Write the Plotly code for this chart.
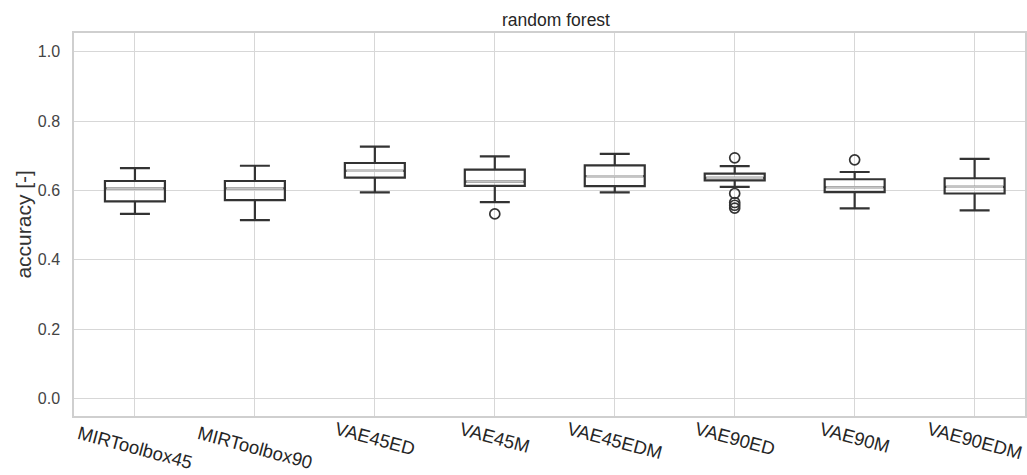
import plotly.graph_objects as go

categories = ["MIRToolbox45", "MIRToolbox90", "VAE45ED", "VAE45M",
              "VAE45EDM", "VAE90ED", "VAE90M", "VAE90EDM"]
q1 = [0.568, 0.572, 0.637, 0.613, 0.612, 0.629, 0.595, 0.591]
median = [0.606, 0.606, 0.656, 0.625, 0.641, 0.636, 0.609, 0.610]
q3 = [0.627, 0.627, 0.679, 0.660, 0.672, 0.648, 0.632, 0.635]
lower_whisker = [0.532, 0.514, 0.594, 0.566, 0.594, 0.610, 0.548, 0.542]
upper_whisker = [0.664, 0.671, 0.726, 0.698, 0.705, 0.670, 0.653, 0.691]
outlier_cat = ["VAE45M", "VAE90ED", "VAE90ED", "VAE90ED", "VAE90ED", "VAE90ED", "VAE90M"]
outlier_val = [0.532, 0.694, 0.591, 0.565, 0.557, 0.549, 0.688]
y_ticks = [0.0, 0.2, 0.4, 0.6, 0.8, 1.0]

BOX_W = 0.5
FONT = "Liberation Sans, Arial"
PLOT_TOP, PLOT_BOTTOM = 33, 416
fig = go.Figure()
fig.add_trace(go.Box(
    x=categories, q1=q1, median=median, q3=q3,
    lowerfence=lower_whisker, upperfence=upper_whisker,
    width=BOX_W, whiskerwidth=0.5, boxpoints=False,
    fillcolor="rgba(0,0,0,0)",
    line=dict(color="#333333", width=2.2),
    showlegend=False, hoverinfo="skip",
))
fig.add_trace(go.Scatter(
    x=outlier_cat, y=outlier_val, mode="markers",
    marker=dict(symbol="circle-open", size=10, color="#333333", line=dict(width=1.7)),
    showlegend=False, hoverinfo="skip",
))

shapes = []
for i, m in enumerate(median):
    shapes.append(dict(type="line", xref="x", yref="y",
                       x0=i - BOX_W / 2 + 0.013, x1=i + BOX_W / 2 - 0.013,
                       y0=m, y1=m, line=dict(color="#c4c4c4", width=2.2),
                       layer="above"))

annotations = []
for i, c in enumerate(categories):
    # top-aligned rotated labels: longer labels hang lower
    center_px = 437 + 1.8 * (len(c) - 6)
    annotations.append(dict(x=i, xref="x",
                            y=(PLOT_BOTTOM - center_px) / (PLOT_BOTTOM - PLOT_TOP),
                            yref="paper", text=c,
                            showarrow=False, textangle=15, xanchor="center",
                            yanchor="middle",
                            font=dict(family=FONT, size=18.5, color="#262626")))
annotations.append(dict(x=(23 - 74) / 953, xref="paper", y=0.5, yref="paper",
                        text="accuracy [-]", showarrow=False, textangle=-90,
                        xanchor="center", yanchor="middle",
                        font=dict(family=FONT, size=21, color="#333333")))

fig.update_layout(
    width=1027, height=475,
    margin=dict(l=74, r=0, t=PLOT_TOP, b=475 - PLOT_BOTTOM),
    paper_bgcolor="white", plot_bgcolor="white",
    font=dict(family=FONT, color="#262626"),
    title=dict(text="random forest", x=556 / 1027, xref="container",
               xanchor="center", y=1 - 20 / 475, yanchor="middle",
               font=dict(size=17.5, color="#262626")),
    shapes=shapes, annotations=annotations,
    xaxis=dict(range=[-0.508, 7.42], showticklabels=False, showgrid=True,
               gridcolor="#d7d7d7", gridwidth=1.3, showline=True, linecolor="#cfcfcf",
               linewidth=1.5, mirror=True, zeroline=False, ticks=""),
    yaxis=dict(range=[-0.051, 1.054], tickvals=y_ticks,
               tickformat=".1f", showgrid=True, gridcolor="#d7d7d7", gridwidth=1.3,
               showline=True, linecolor="#cfcfcf", linewidth=1.5, mirror=True,
               zeroline=False, ticks="", ticklabelstandoff=9,
               tickfont=dict(size=16, color="#444444")),
)

fig.write_html("out.html")
